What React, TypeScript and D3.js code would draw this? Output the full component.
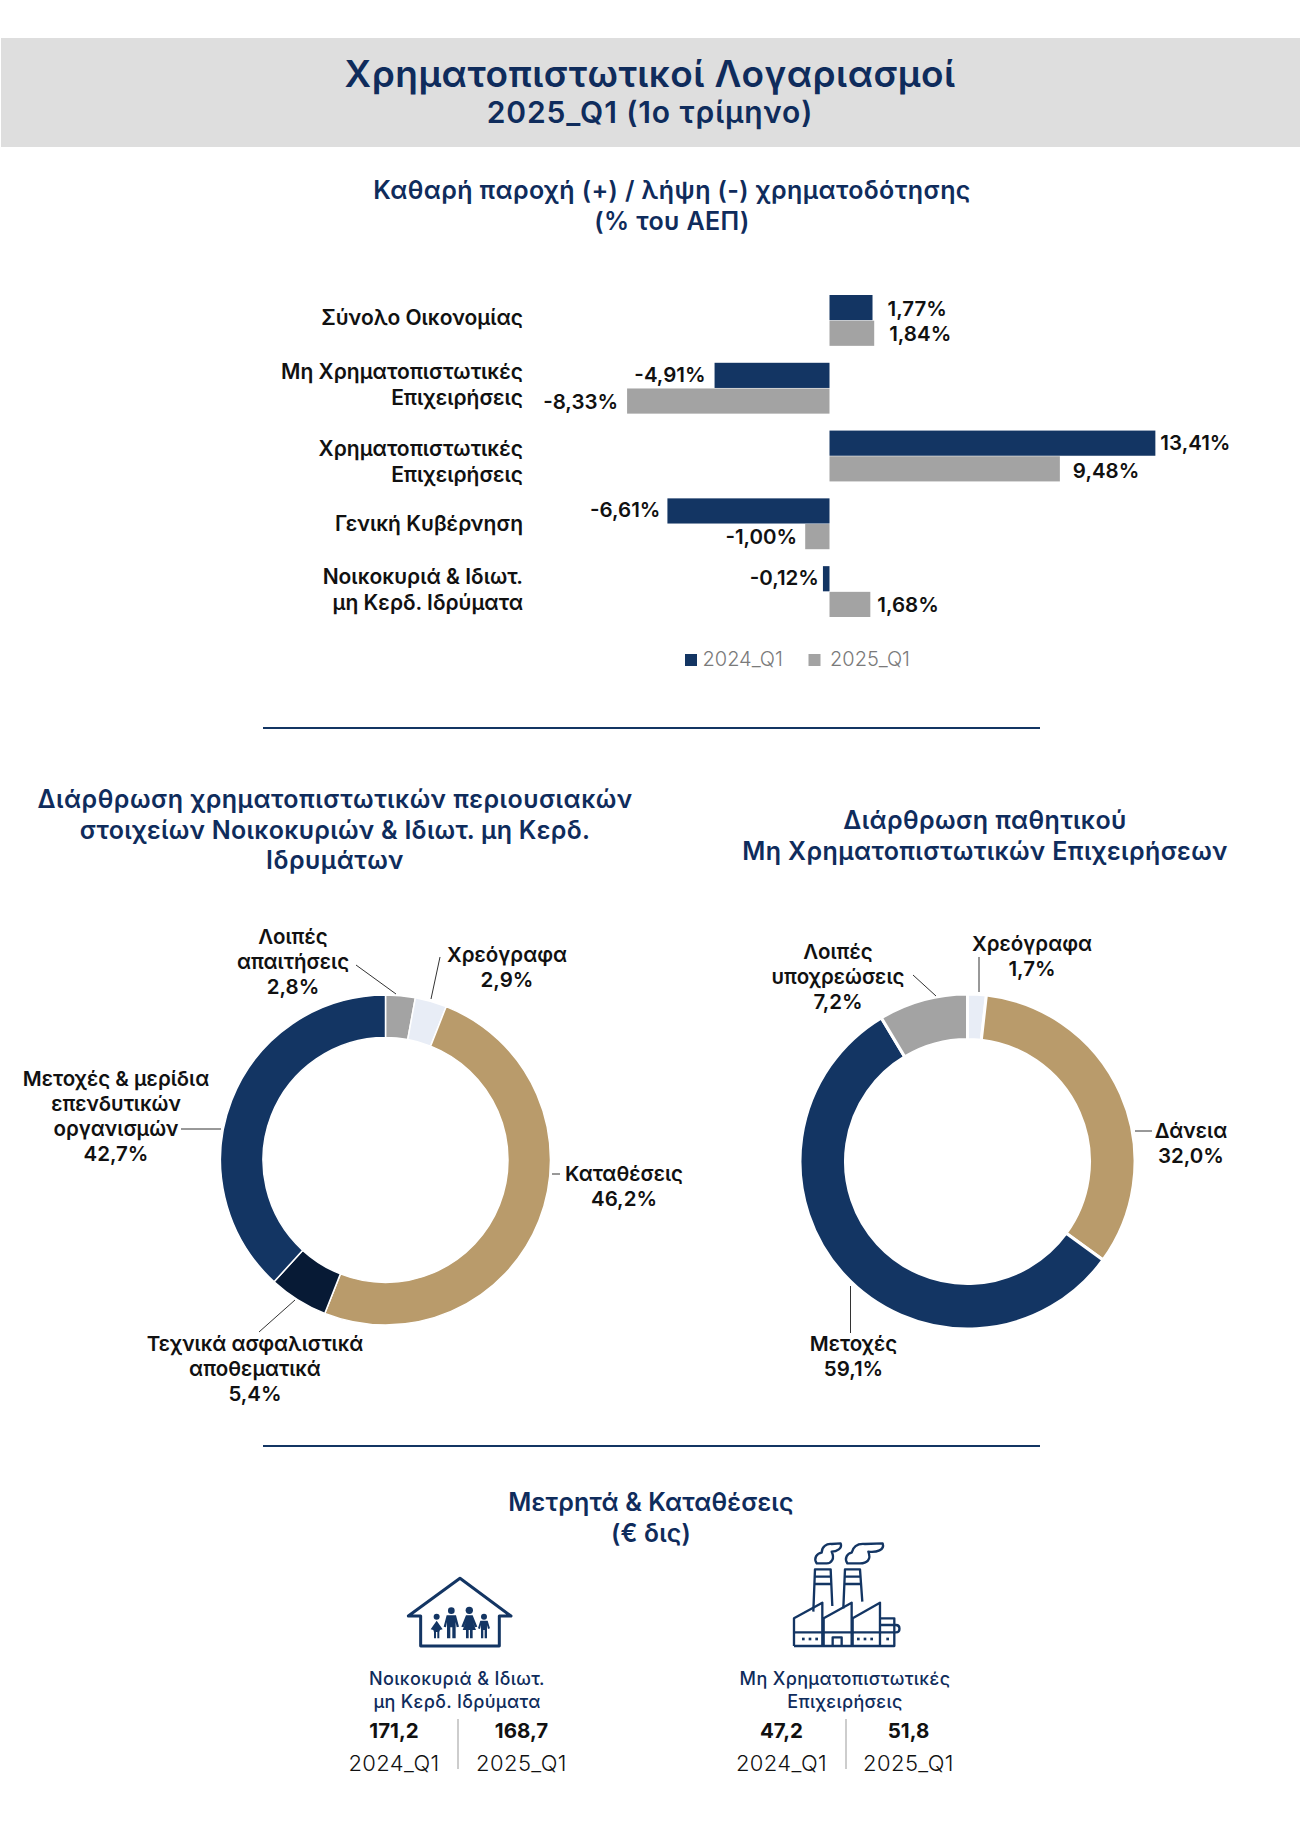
import React from 'react';
import * as d3 from 'd3';

// Bar chart data (% of GDP)
const categories = ['Σύνολο Οικονομίας', 'Μη Χρηματοπιστωτικές Επιχειρήσεις', 'Χρηματοπιστωτικές Επιχειρήσεις', 'Γενική Κυβέρνηση', 'Νοικοκυριά & Ιδιωτ. μη Κερδ. Ιδρύματα'];
const categoryLines = [['Σύνολο Οικονομίας'], ['Μη Χρηματοπιστωτικές', 'Επιχειρήσεις'], ['Χρηματοπιστωτικές', 'Επιχειρήσεις'], ['Γενική Κυβέρνηση'], ['Νοικοκυριά & Ιδιωτ.', 'μη Κερδ. Ιδρύματα']];
const periods = ['2024_Q1', '2025_Q1'];
const values2024 = [1.77, -4.91, 13.41, -6.61, -0.12];
const values2025 = [1.84, -8.33, 9.48, -1.0, 1.68];
// bar lengths as drawn in the source, a few differ slightly from the printed value
const drawn2024 = [1.77, -4.73, 13.41, -6.67, -0.27];
const drawn2025 = [1.84, -8.33, 9.48, -1.0, 1.68];

// Donuts: labels carry the printed share, arcs carry the share as drawn in the source
const assetLabels = ['2,8%', '2,9%', '46,2%', '5,4%', '42,7%'];
const assetArcs = [2.9, 3.1, 50.0, 5.8, 38.2];
const liabilityLabels = ['1,7%', '32,0%', '59,1%', '7,2%'];
const liabilityArcs = [1.8, 33.2, 56.4, 8.6];

// Cash & deposits (€ bn)
const householdCash = ['171,2', '168,7'];
const corporateCash = ['47,2', '51,8'];

const NAVY = '#133563';
const TITLE = '#0f2c5c';
const GREY = '#a3a3a3';
const LIGHT = '#e8edf6';
const TAN = '#b99b6b';
const DARK = '#071a35';
const INK = '#111111';
const FONT = 'Inter, "Noto Sans", sans-serif';

const assetColors = [GREY, LIGHT, TAN, DARK, NAVY];
const liabilityColors = [LIGHT, TAN, NAVY, GREY];

const x = d3.scaleLinear().domain([-10, 15]).range([586.5, 1194]);
const y0 = d3.scaleBand().domain(categories).range([295, 617]).paddingInner(0.25);
const y1 = d3.scaleBand().domain(periods).range([0, y0.bandwidth()]).paddingInner(0.02);

const barSeries = [values2024, values2025];
const barDrawn = [drawn2024, drawn2025];
const barColors = [NAVY, GREY];
const labelGaps = [[15, 15], [9, 9], [5, 13], [7, 8], [4, 7]];
const labelShifts = [[1, 1], [0, 1], [0, 2], [-1, 0], [-1, 1]];
const categoryShifts = [-2, -3.5, 6, 0, -2];
const fmtPct = (v: number) => `${v.toFixed(2).replace('.', ',')}%`;

interface TxtProps {
  x: number;
  y: number;
  size?: number;
  weight?: number;
  fill?: string;
  anchor?: 'start' | 'middle' | 'end';
  spacing?: number;
  children: React.ReactNode;
}

const Txt: React.FC<TxtProps> = ({ x, y, size = 21, weight = 600, fill = INK, anchor = 'middle', spacing = 0, children }) => (
  <text x={x} y={y} fontSize={size} fontWeight={weight} fill={fill} textAnchor={anchor} letterSpacing={spacing} fontFamily={FONT}>
    {children}
  </text>
);

interface LabelLayout {
  cx: number;
  top: number;
  lines: string[];
  leader: [number, number, number, number];
}

interface DonutProps {
  cx: number;
  cy: number;
  outer: number;
  inner: number;
  gap: number;
  arcs: number[];
  colors: string[];
  labels: LabelLayout[];
}

const Donut: React.FC<DonutProps> = ({ cx, cy, outer, inner, gap, arcs, colors, labels }) => {
  const pie = d3.pie<number>().sort(null).value((d) => d);
  const arc = d3.arc<d3.PieArcDatum<number>>().innerRadius(inner).outerRadius(outer);
  return (
    <g>
      <g transform={`translate(${cx},${cy})`}>
        {pie(arcs).map((d, i) => (
          <path key={i} d={arc(d) || ''} fill={colors[i]} stroke="#fff" strokeWidth={gap} />
        ))}
      </g>
      {labels.map((l, i) => (
        <g key={i}>
          <line x1={l.leader[0]} y1={l.leader[1]} x2={l.leader[2]} y2={l.leader[3]} stroke="#333" strokeWidth={1} />
          {l.lines.map((t, j) => (
            <Txt key={j} x={l.cx} y={l.top + j * 25} size={20.5}>{t}</Txt>
          ))}
        </g>
      ))}
    </g>
  );
};

const assetLayout: LabelLayout[] = [
  { cx: 293, top: 944, lines: ['Λοιπές', 'απαιτήσεις', assetLabels[0]], leader: [356, 965, 396, 994] },
  { cx: 507, top: 962, lines: ['Χρεόγραφα', assetLabels[1]], leader: [440, 957, 431, 999] },
  { cx: 624, top: 1181, lines: ['Καταθέσεις', assetLabels[2]], leader: [552, 1174, 560, 1174] },
  { cx: 255, top: 1351, lines: ['Τεχνικά ασφαλιστικά', 'αποθεματικά', assetLabels[3]], leader: [295, 1300, 259, 1332] },
  { cx: 116, top: 1086, lines: ['Μετοχές & μερίδια', 'επενδυτικών', 'οργανισμών', assetLabels[4]], leader: [181, 1129, 221, 1129] },
];

const liabilityLayout: LabelLayout[] = [
  { cx: 1032, top: 951, lines: ['Χρεόγραφα', liabilityLabels[0]], leader: [979, 957, 979, 992] },
  { cx: 1191, top: 1138, lines: ['Δάνεια', liabilityLabels[1]], leader: [1135, 1131, 1152, 1131] },
  { cx: 853.5, top: 1351, lines: ['Μετοχές', liabilityLabels[2]], leader: [850.5, 1286, 850.5, 1333] },
  { cx: 838, top: 959, lines: ['Λοιπές', 'υποχρεώσεις', liabilityLabels[3]], leader: [913, 975, 936, 996] },
];

const HouseIcon: React.FC = () => (
  <g fill="none" stroke={NAVY} strokeWidth={3} transform="translate(330,1530) scale(0.3333)">
    <path d="M272 258 H235 L390 145 L543 258 H508 V348 H272 Z" strokeWidth={9} strokeLinejoin="round" />
    <g fill={NAVY} stroke="none">
      <circle cx={320} cy={260} r={9} />
      <path d="M320 272 L338 298 L330 300 L328 306 H312 L310 300 L302 298 Z M312 306 H318 V325 H312 Z M322 306 H328 V325 H322 Z" />
      <circle cx={364} cy={242} r={10} />
      <path d="M350 256 H378 L387 290 L380 292 L377 276 V325 H367 V292 H361 V325 H351 V276 L348 292 L341 290 Z" />
      <circle cx={418} cy={241} r={11} />
      <path d="M408 256 H428 L442 290 L435 292 L428 276 L438 300 H398 L408 276 L401 292 L394 290 Z M408 300 H416 V325 H408 Z M420 300 H428 V325 H420 Z" />
      <circle cx={462} cy={260} r={9} />
      <path d="M451 272 H473 L480 295 L474 297 L471 285 V325 H464 V300 H460 V325 H453 V285 L450 297 L444 295 Z" />
    </g>
  </g>
);

const FactoryIcon: React.FC = () => (
  <g fill="none" stroke={NAVY} strokeWidth={7} strokeLinejoin="round" transform="translate(720,1530) scale(0.3333)">
    <path d="M290 100 C280 85 290 70 305 68 C305 50 320 40 335 42 L362 40 C368 55 350 65 335 65 C345 85 335 100 320 100 Z" />
    <path d="M382 100 C372 85 382 70 395 68 C400 48 415 40 435 42 L488 40 C495 60 470 68 445 65 C455 90 440 100 420 100 Z" />
    <path d="M280 245 L285 118 H332 L337 228 M283 140 H334 M282 162 H335" />
    <path d="M370 235 L375 118 H420 L427 215 M373 140 H422 M372 162 H423" />
    <path d="M222 348 V265 L307 218 V348 M311 348 V265 L395 218 V348 M398 348 V265 L480 218 V348" />
    <path d="M222 307 H480 M222 348 H523 V265 H480 M480 285 H528 C542 285 542 307 528 307 H480" />
    <path d="M338 348 V322 H365 V348" />
    <g fill={NAVY} stroke="none">
      {[250, 270, 290, 415, 435, 455, 503].map((cx) => (
        <rect key={cx} x={cx - 4} y={323} width={8} height={8} />
      ))}
    </g>
  </g>
);

interface CashProps {
  cx: number;
  left: number;
  right: number;
  lines: string[];
  values: string[];
}

const CashBlock: React.FC<CashProps> = ({ cx, left, right, lines, values }) => (
  <g>
    {lines.map((t, i) => (
      <Txt key={i} x={cx} y={1685 + i * 23} size={18} weight={500} spacing={0.35} fill={TITLE}>{t}</Txt>
    ))}
    <line x1={cx + 1} y1={1719} x2={cx + 1} y2={1769} stroke="#bdbdbd" strokeWidth={1.5} />
    {[left, right].map((px, i) => (
      <g key={i}>
        <Txt x={px} y={1738} size={20.5} weight={700}>{values[i]}</Txt>
        <Txt x={px} y={1771} size={22} weight={300} spacing={0.4}>{periods[i]}</Txt>
      </g>
    ))}
  </g>
);

const App: React.FC = () => {
  return (
    <svg width={1300} height={1839} viewBox="0 0 1300 1839" style={{ position: 'absolute', left: 0, top: 0, background: '#fff' }}>
      <rect x={1} y={38} width={1299} height={109} fill="#dedede" />
      <Txt x={650} y={87} size={37} spacing={0.5} fill={TITLE}>Χρηματοπιστωτικοί Λογαριασμοί</Txt>
      <Txt x={650} y={123} size={30} spacing={0.9} fill={TITLE}>2025_Q1 (1ο τρίμηνο)</Txt>

      <Txt x={672} y={199} size={25} spacing={0.4} fill={TITLE}>Καθαρή παροχή (+) / λήψη (-) χρηματοδότησης</Txt>
      <Txt x={672} y={230} size={25} spacing={0.4} fill={TITLE}>(% του ΑΕΠ)</Txt>

      {categories.map((c, i) => {
        const mid = (y0(c) || 0) + y0.bandwidth() / 2;
        const lines = categoryLines[i];
        return (
          <g key={c}>
            {lines.map((t, j) => (
              <Txt key={j} x={523} y={mid + 7 + categoryShifts[i] + (j - (lines.length - 1) / 2) * 26} anchor="end">{t}</Txt>
            ))}
            {barSeries.map((series, s) => {
              const v = barDrawn[s][i];
              const top = (y0(c) || 0) + (y1(periods[s]) || 0);
              const h = y1.bandwidth();
              const gap = labelGaps[i][s];
              return (
                <g key={s}>
                  <rect x={Math.min(x(0), x(v))} y={top} width={Math.abs(x(v) - x(0))} height={h} fill={barColors[s]} />
                  <Txt x={v < 0 ? x(v) - gap : x(v) + gap} y={top + h / 2 + 7 + labelShifts[i][s]} size={20.5} anchor={v < 0 ? 'end' : 'start'}>{fmtPct(series[i])}</Txt>
                </g>
              );
            })}
          </g>
        );
      })}

      {periods.map((p, i) => (
        <g key={p}>
          <rect x={685 + i * 123.5} y={654} width={12} height={12} fill={barColors[i]} />
          <Txt x={702.5 + i * 127.5} y={666} size={20} weight={300} fill="#7a7a7a" anchor="start">{p}</Txt>
        </g>
      ))}

      <line x1={263} y1={728} x2={1040} y2={728} stroke={NAVY} strokeWidth={2} />

      <Txt x={335} y={808} size={25} spacing={0.5} fill={TITLE}>Διάρθρωση χρηματοπιστωτικών περιουσιακών</Txt>
      <Txt x={335} y={839} size={25} spacing={0.3} fill={TITLE}>στοιχείων Νοικοκυριών & Ιδιωτ. μη Κερδ.</Txt>
      <Txt x={335} y={869} size={25} spacing={0.5} fill={TITLE}>Ιδρυμάτων</Txt>
      <Txt x={985} y={829} size={25} spacing={0.4} fill={TITLE}>Διάρθρωση παθητικού</Txt>
      <Txt x={985} y={860} size={25} spacing={0.4} fill={TITLE}>Μη Χρηματοπιστωτικών Επιχειρήσεων</Txt>

      <Donut cx={385.5} cy={1160} outer={165} inner={122.5} gap={1.5} arcs={assetArcs} colors={assetColors} labels={assetLayout} />
      <Donut cx={967.5} cy={1161.5} outer={167.5} inner={122} gap={3} arcs={liabilityArcs} colors={liabilityColors} labels={liabilityLayout} />

      <line x1={263} y1={1446} x2={1040} y2={1446} stroke={NAVY} strokeWidth={2} />

      <Txt x={651} y={1511} size={25} spacing={0.15} fill={TITLE}>Μετρητά & Καταθέσεις</Txt>
      <Txt x={651} y={1542} size={25} spacing={0.15} fill={TITLE}>(€ δις)</Txt>

      <HouseIcon />
      <FactoryIcon />
      <CashBlock cx={457} left={394} right={521.5} lines={['Νοικοκυριά & Ιδιωτ.', 'μη Κερδ. Ιδρύματα']} values={householdCash} />
      <CashBlock cx={845} left={781.5} right={908.5} lines={['Μη Χρηματοπιστωτικές', 'Επιχειρήσεις']} values={corporateCash} />
    </svg>
  );
};

export default App;
